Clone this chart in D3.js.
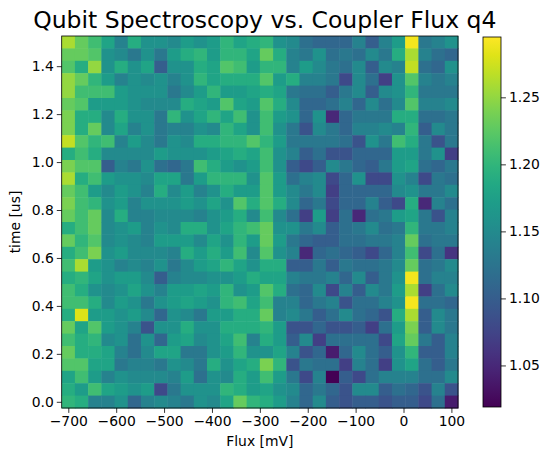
<!DOCTYPE html>
<html><head><meta charset="utf-8">
<script src="https://cdn.jsdelivr.net/npm/d3@7"></script>
<style>body{margin:0;background:#fff}text{font-family:"DejaVu Sans",sans-serif}</style>
</head><body><div id="chart"></div>
<script>
// flux points (mV) and time points (us): 30 x 30 linspace
var fluxStart = -700, fluxEnd = 100, nFlux = 30;
var timeStart = 0, timeEnd = 1.5, nTime = 30;
var fluxTicks = [-700, -600, -500, -400, -300, -200, -100, 0, 100];
var timeTicks = [0, 0.2, 0.4, 0.6, 0.8, 1.0, 1.2, 1.4];
var cbarTicks = [1.05, 1.10, 1.15, 1.20, 1.25];
var vmin = 1.019, vmax = 1.295;

// rows from top (t = 1.5) to bottom (t = 0), left half cols 0..14
var leftRows = [
[1.26,1.23,1.21,1.18,1.14,1.19,1.16,1.16,1.15,1.17,1.16,1.17,1.20,1.18,1.19],
[1.23,1.23,1.22,1.16,1.15,1.13,1.16,1.13,1.17,1.19,1.20,1.17,1.20,1.20,1.18],
[1.22,1.19,1.25,1.16,1.19,1.16,1.18,1.10,1.16,1.16,1.19,1.18,1.22,1.21,1.17],
[1.25,1.23,1.20,1.17,1.14,1.16,1.15,1.16,1.14,1.16,1.20,1.18,1.19,1.19,1.19],
[1.25,1.21,1.21,1.21,1.17,1.16,1.16,1.16,1.13,1.15,1.17,1.20,1.17,1.17,1.18],
[1.23,1.22,1.17,1.17,1.17,1.16,1.15,1.15,1.15,1.19,1.18,1.17,1.22,1.18,1.17],
[1.24,1.19,1.19,1.15,1.19,1.16,1.16,1.13,1.20,1.16,1.18,1.20,1.18,1.21,1.16],
[1.24,1.19,1.23,1.15,1.18,1.14,1.16,1.13,1.14,1.14,1.16,1.15,1.20,1.18,1.16],
[1.27,1.22,1.20,1.21,1.14,1.17,1.15,1.13,1.16,1.15,1.19,1.19,1.20,1.20,1.22],
[1.19,1.21,1.19,1.15,1.15,1.15,1.15,1.17,1.16,1.16,1.16,1.17,1.18,1.19,1.18],
[1.24,1.22,1.22,1.10,1.14,1.13,1.16,1.12,1.11,1.13,1.21,1.19,1.17,1.16,1.17],
[1.26,1.19,1.21,1.17,1.16,1.16,1.15,1.18,1.18,1.13,1.17,1.20,1.20,1.20,1.16],
[1.23,1.21,1.17,1.15,1.17,1.16,1.14,1.19,1.15,1.17,1.14,1.16,1.19,1.17,1.17],
[1.24,1.21,1.20,1.16,1.17,1.14,1.16,1.16,1.16,1.17,1.16,1.18,1.16,1.22,1.19],
[1.23,1.21,1.23,1.15,1.19,1.14,1.14,1.15,1.15,1.15,1.14,1.16,1.17,1.19,1.15],
[1.19,1.21,1.23,1.15,1.16,1.17,1.14,1.16,1.15,1.19,1.19,1.16,1.18,1.20,1.21],
[1.23,1.20,1.22,1.15,1.16,1.15,1.14,1.17,1.17,1.17,1.15,1.18,1.16,1.20,1.17],
[1.19,1.21,1.24,1.16,1.17,1.15,1.15,1.15,1.14,1.19,1.17,1.19,1.17,1.21,1.15],
[1.21,1.26,1.17,1.16,1.14,1.15,1.14,1.16,1.13,1.15,1.17,1.18,1.20,1.18,1.16],
[1.19,1.20,1.18,1.16,1.17,1.17,1.15,1.10,1.14,1.15,1.15,1.16,1.16,1.17,1.19],
[1.21,1.19,1.16,1.15,1.16,1.18,1.16,1.14,1.17,1.17,1.18,1.17,1.20,1.16,1.17],
[1.21,1.21,1.19,1.15,1.17,1.16,1.13,1.16,1.17,1.18,1.17,1.16,1.20,1.21,1.18],
[1.19,1.28,1.17,1.17,1.16,1.17,1.15,1.11,1.16,1.15,1.13,1.17,1.17,1.19,1.19],
[1.23,1.18,1.22,1.17,1.16,1.14,1.09,1.16,1.16,1.19,1.16,1.16,1.19,1.19,1.19],
[1.21,1.19,1.20,1.15,1.16,1.12,1.16,1.11,1.17,1.18,1.15,1.16,1.18,1.21,1.14],
[1.23,1.19,1.19,1.18,1.14,1.12,1.15,1.18,1.18,1.13,1.13,1.16,1.17,1.20,1.16],
[1.22,1.22,1.18,1.18,1.13,1.14,1.14,1.13,1.16,1.15,1.13,1.19,1.16,1.18,1.19],
[1.18,1.21,1.17,1.14,1.16,1.15,1.15,1.15,1.14,1.17,1.12,1.16,1.15,1.19,1.17],
[1.19,1.17,1.21,1.18,1.17,1.16,1.17,1.08,1.13,1.16,1.16,1.16,1.20,1.19,1.17],
[1.20,1.19,1.14,1.14,1.16,1.11,1.14,1.15,1.14,1.13,1.16,1.15,1.18,1.23,1.20]
];
// right half cols 15..29
var rightRows = [
[1.20,1.16,1.15,1.12,1.11,1.11,1.11,1.14,1.10,1.14,1.17,1.29,1.13,1.14,1.16],
[1.23,1.19,1.14,1.13,1.16,1.12,1.13,1.12,1.15,1.13,1.19,1.26,1.14,1.12,1.11],
[1.20,1.20,1.14,1.17,1.15,1.13,1.12,1.15,1.10,1.15,1.14,1.27,1.12,1.11,1.16],
[1.22,1.17,1.19,1.14,1.14,1.13,1.08,1.15,1.12,1.07,1.16,1.22,1.14,1.13,1.14],
[1.19,1.18,1.13,1.12,1.12,1.10,1.13,1.15,1.10,1.15,1.16,1.20,1.13,1.13,1.13],
[1.22,1.19,1.15,1.11,1.11,1.12,1.14,1.11,1.15,1.12,1.15,1.22,1.14,1.14,1.15],
[1.21,1.17,1.16,1.11,1.16,1.05,1.11,1.13,1.13,1.13,1.19,1.19,1.12,1.12,1.13],
[1.21,1.16,1.13,1.09,1.15,1.13,1.11,1.14,1.14,1.15,1.14,1.20,1.10,1.15,1.13],
[1.20,1.17,1.13,1.13,1.13,1.13,1.12,1.09,1.16,1.13,1.21,1.19,1.13,1.09,1.13],
[1.21,1.16,1.14,1.10,1.12,1.09,1.09,1.11,1.11,1.11,1.17,1.17,1.13,1.16,1.07],
[1.21,1.16,1.10,1.08,1.10,1.15,1.13,1.11,1.10,1.13,1.17,1.18,1.12,1.11,1.13],
[1.22,1.17,1.12,1.14,1.15,1.08,1.11,1.16,1.08,1.08,1.16,1.14,1.08,1.13,1.12],
[1.22,1.17,1.15,1.13,1.15,1.07,1.11,1.11,1.11,1.11,1.15,1.16,1.13,1.13,1.15],
[1.22,1.19,1.15,1.11,1.13,1.08,1.11,1.11,1.14,1.10,1.08,1.19,1.05,1.14,1.12],
[1.21,1.15,1.12,1.07,1.17,1.07,1.12,1.05,1.12,1.13,1.17,1.18,1.13,1.09,1.14],
[1.23,1.16,1.16,1.13,1.15,1.10,1.12,1.13,1.15,1.12,1.13,1.20,1.13,1.13,1.14],
[1.23,1.17,1.13,1.11,1.10,1.10,1.12,1.12,1.13,1.13,1.14,1.23,1.12,1.13,1.13],
[1.22,1.16,1.14,1.05,1.11,1.12,1.11,1.10,1.08,1.11,1.14,1.21,1.08,1.12,1.06],
[1.19,1.19,1.10,1.10,1.13,1.10,1.13,1.12,1.12,1.13,1.15,1.23,1.12,1.13,1.15],
[1.18,1.18,1.14,1.13,1.13,1.14,1.11,1.15,1.10,1.13,1.16,1.29,1.12,1.14,1.14],
[1.22,1.19,1.12,1.11,1.15,1.08,1.14,1.10,1.15,1.13,1.17,1.26,1.07,1.12,1.15],
[1.21,1.14,1.14,1.11,1.13,1.14,1.09,1.12,1.12,1.14,1.16,1.29,1.12,1.12,1.11],
[1.23,1.14,1.15,1.13,1.10,1.12,1.15,1.12,1.11,1.09,1.19,1.26,1.10,1.15,1.13],
[1.20,1.17,1.09,1.09,1.11,1.09,1.09,1.10,1.07,1.12,1.17,1.24,1.10,1.15,1.13],
[1.19,1.17,1.10,1.15,1.07,1.12,1.12,1.12,1.12,1.08,1.18,1.23,1.13,1.10,1.14],
[1.16,1.18,1.14,1.09,1.11,1.04,1.11,1.15,1.12,1.10,1.16,1.20,1.10,1.10,1.14],
[1.24,1.20,1.09,1.13,1.12,1.12,1.07,1.14,1.12,1.07,1.16,1.18,1.12,1.10,1.13],
[1.21,1.17,1.13,1.08,1.14,1.02,1.10,1.08,1.12,1.14,1.14,1.14,1.12,1.12,1.15],
[1.18,1.16,1.15,1.11,1.13,1.11,1.09,1.15,1.15,1.10,1.12,1.11,1.09,1.14,1.09],
[1.19,1.17,1.14,1.11,1.15,1.10,1.09,1.10,1.10,1.09,1.10,1.10,1.08,1.12,1.04]
];

var fluxStep = (fluxEnd - fluxStart) / (nFlux - 1);
var timeStep = (timeEnd - timeStart) / (nTime - 1);

var cells = [];
leftRows.forEach(function(row, r) {
  var full = row.concat(rightRows[r]);
  full.forEach(function(v, c) {
    cells.push({f: fluxStart + c * fluxStep, t: timeEnd - r * timeStep, v: v});
  });
});

var fs = 13.9; // 10pt at 100 dpi

var svg = d3.select("#chart").append("svg").attr("width", 552).attr("height", 460);

var plot = {left: 61.7, right: 458, top: 36, bottom: 408};

var x = d3.scaleLinear()
  .domain([fluxStart - fluxStep / 2, fluxEnd + fluxStep / 2])
  .range([plot.left, plot.right]);
var y = d3.scaleLinear()
  .domain([timeStart - timeStep / 2, timeEnd + timeStep / 2])
  .range([plot.bottom, plot.top]);
var color = d3.scaleSequential(d3.interpolateViridis).domain([vmin, vmax]);

svg.append("g").selectAll("rect").data(cells).enter().append("rect")
  .attr("x", function(d) { return x(d.f - fluxStep / 2); })
  .attr("y", function(d) { return y(d.t + timeStep / 2); })
  .attr("width", x(fluxStep) - x(0) + 0.5)
  .attr("height", y(0) - y(timeStep) + 0.5)
  .attr("fill", function(d) { return color(d.v); });

svg.append("rect")
  .attr("x", plot.left).attr("y", plot.top)
  .attr("width", plot.right - plot.left).attr("height", plot.bottom - plot.top)
  .attr("fill", "none").attr("stroke", "#000").attr("stroke-width", 0.8);

var xAxis = svg.append("g").attr("transform", "translate(0," + plot.bottom + ")")
  .call(d3.axisBottom(x).tickValues(fluxTicks).tickSize(4.9).tickPadding(3));
var yAxis = svg.append("g").attr("transform", "translate(" + plot.left + ",0)")
  .call(d3.axisLeft(y).tickValues(timeTicks).tickFormat(d3.format(".1f")).tickSize(4.9).tickPadding(3));
[xAxis, yAxis].forEach(function(a) {
  a.select(".domain").remove();
  a.selectAll("text").attr("font-size", fs).attr("fill", "#000")
    .style("font-family", "DejaVu Sans");
  a.selectAll("line").attr("stroke", "#000").attr("stroke-width", 0.8);
});

svg.append("text").attr("x", (plot.left + plot.right) / 2).attr("y", 446)
  .attr("text-anchor", "middle").attr("font-size", fs).text("Flux [mV]");
svg.append("text").attr("transform", "translate(20," + (plot.top + plot.bottom) / 2 + ") rotate(-90)")
  .attr("text-anchor", "middle").attr("font-size", fs).text("time [us]");
svg.append("text").attr("x", (plot.left + plot.right) / 2 + 5).attr("y", 28)
  .attr("text-anchor", "middle").attr("font-size", 23.5).text("Qubit Spectroscopy vs. Coupler Flux q4");

// colorbar
var cb = {left: 483, width: 18, top: 37, bottom: 407};
var cy = d3.scaleLinear().domain([vmin, vmax]).range([cb.bottom, cb.top]);
var grad = svg.append("defs").append("linearGradient").attr("id", "cbgrad")
  .attr("x1", 0).attr("y1", 1).attr("x2", 0).attr("y2", 0);
d3.range(0, 1.001, 0.05).forEach(function(s) {
  grad.append("stop").attr("offset", s).attr("stop-color", d3.interpolateViridis(s));
});
svg.append("rect").attr("x", cb.left).attr("y", cb.top)
  .attr("width", cb.width).attr("height", cb.bottom - cb.top)
  .attr("fill", "url(#cbgrad)").attr("stroke", "#000").attr("stroke-width", 0.8);
var cAxis = svg.append("g").attr("transform", "translate(" + (cb.left + cb.width) + ",0)")
  .call(d3.axisRight(cy).tickValues(cbarTicks).tickFormat(d3.format(".2f")).tickSize(4.9).tickPadding(3));
cAxis.select(".domain").remove();
cAxis.selectAll("text").attr("font-size", fs).attr("fill", "#000").style("font-family", "DejaVu Sans");
cAxis.selectAll("line").attr("stroke", "#000").attr("stroke-width", 0.8);
</script>
</body></html>
